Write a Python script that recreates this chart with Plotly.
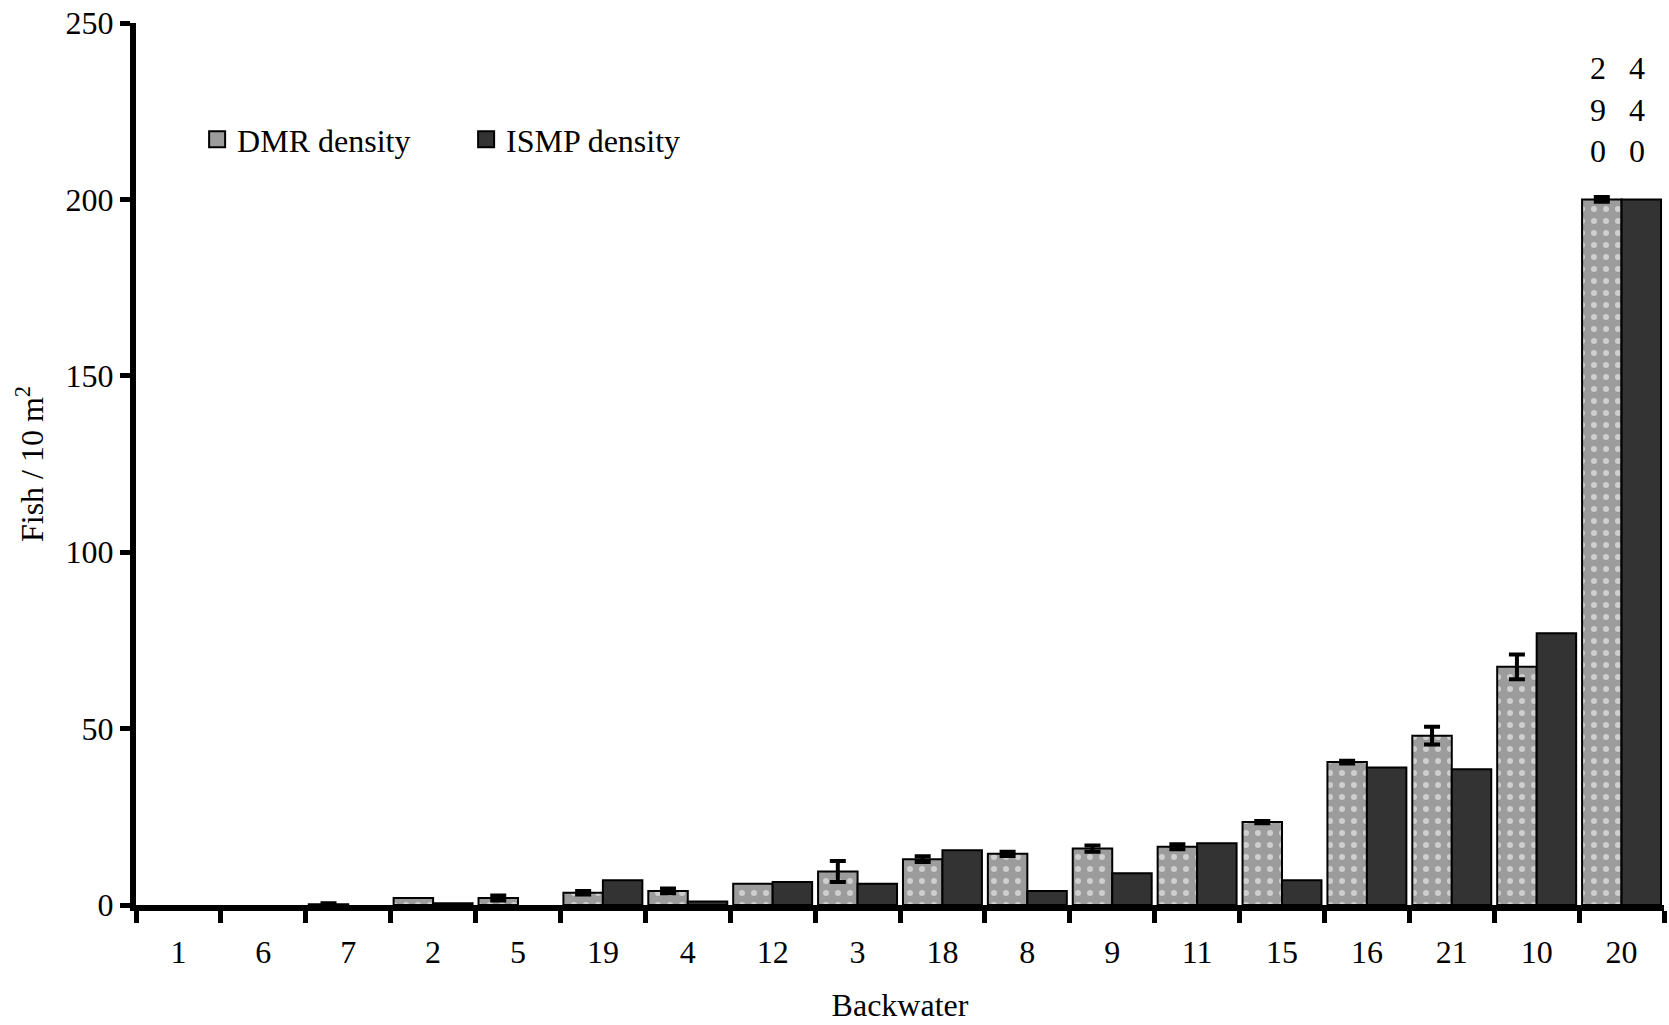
import plotly.graph_objects as go

# Backwaters ordered by increasing density
backwaters = ["1", "6", "7", "2", "5", "19", "4", "12", "3", "18",
              "8", "9", "11", "15", "16", "21", "10", "20"]
dmr_density = [0, 0, 0.2, 2.0, 2.0, 3.5, 4.0, 6.0, 9.5, 13.0,
               14.5, 16.0, 16.5, 23.5, 40.5, 48.0, 67.5, 290]
dmr_se = [None, None, 0.3, None, 0.7, 0.5, 0.7, None, 3.0, 0.8,
          0.6, 0.9, 0.7, 0.3, 0.4, 2.5, 3.5, 0.7]
ismp_density = [0, 0, 0, 0.5, 0, 7.0, 1.0, 6.5, 6.0, 15.5,
                4.0, 9.0, 17.5, 7.0, 39.0, 38.5, 77.0, 440]
y_ticks = [0, 50, 100, 150, 200, 250]

# bars above this value are truncated and their value written above them
AXIS_BREAK = 200
BARGAP = 0.07

FONT = "Liberation Serif"
SIZE = 32

DMR_FILL = "#9c9c9c"
ISMP_FILL = "#333333"


def drawn(values):
    # empty bars are left out; tall bars are cut at the break
    return [min(v, AXIS_BREAK) if v > 0 else None for v in values]


fig = go.Figure()
fig.add_trace(go.Bar(
    name="DMR density", x=backwaters, y=drawn(dmr_density), offsetgroup="dmr",
    showlegend=False,
    marker=dict(color=DMR_FILL, line=dict(color="black", width=2),
                pattern=dict(shape=".", fgcolor="white", bgcolor=DMR_FILL,
                             size=12, solidity=0.2)),
))
fig.add_trace(go.Bar(
    name="ISMP density", x=backwaters, y=drawn(ismp_density), offsetgroup="ismp",
    showlegend=False,
    marker=dict(color=ISMP_FILL, line=dict(color="black", width=2)),
))

# error bars only where a standard error was measured
dmr_top = drawn(dmr_density)
fig.add_trace(go.Scatter(
    x=backwaters, y=[t if s is not None else None for t, s in zip(dmr_top, dmr_se)],
    offsetgroup="dmr", mode="markers", marker=dict(size=1, opacity=0),
    error_y=dict(type="data", array=[s if s is not None else 0 for s in dmr_se],
                 color="black", thickness=4, width=8),
    showlegend=False, hoverinfo="skip",
))
fig.add_trace(go.Scatter(
    x=backwaters, y=[None] * len(backwaters), offsetgroup="ismp", mode="markers",
    marker=dict(size=1, opacity=0), showlegend=False, hoverinfo="skip",
))

# legend keys
fig.add_trace(go.Scatter(
    x=[None], y=[None], name="DMR density", mode="markers", offsetgroup="dmr",
    marker=dict(symbol="square", size=16, color=DMR_FILL,
                line=dict(color="black", width=2)),
))
fig.add_trace(go.Scatter(
    x=[None], y=[None], name="ISMP density", mode="markers", offsetgroup="ismp",
    marker=dict(symbol="square", size=16, color=ISMP_FILL,
                line=dict(color="black", width=2)),
))

# write the full value of truncated bars vertically above them
half = (1 - BARGAP) / 4
for series, offset in ((dmr_density, -half), (ismp_density, half)):
    for i, v in enumerate(series):
        if v > AXIS_BREAK:
            fig.add_annotation(
                x=i + offset, y=AXIS_BREAK, xref="x", yref="y",
                text="<br>".join(str(int(v))), showarrow=False,
                yanchor="bottom", yshift=28, xshift=-4,
                font=dict(family=FONT, size=SIZE, color="black"),
            )

fig.update_layout(
    width=1669, height=1025,
    margin=dict(l=136, r=5, t=21, b=120),
    paper_bgcolor="white", plot_bgcolor="white",
    barmode="group", bargap=BARGAP, bargroupgap=0,
    scattermode="group", scattergap=BARGAP,
    font=dict(family=FONT, size=SIZE, color="black"),
    showlegend=True,
    legend=dict(orientation="h", x=0.04, y=0.868, xanchor="left", yanchor="middle",
                font=dict(family=FONT, size=SIZE), itemwidth=30, itemsizing="trace",
                bgcolor="rgba(0,0,0,0)", entrywidth=224),
    xaxis=dict(
        range=[-0.5, len(backwaters) - 0.5], tickson="boundaries",
        ticks="outside", ticklen=12, tickwidth=5, tickcolor="black",
        showline=True, linewidth=6, linecolor="black", showgrid=False,
        tickfont=dict(family=FONT, size=SIZE), ticklabelstandoff=14,
        title=dict(text="Backwater", font=dict(family=FONT, size=SIZE), standoff=26),
    ),
    yaxis=dict(
        range=[0, 250], tickvals=y_ticks, ticks="outside", ticklen=10,
        tickwidth=5, tickcolor="black", showline=True, linewidth=6,
        linecolor="black", showgrid=False, zeroline=False,
        tickfont=dict(family=FONT, size=SIZE),
        title=dict(text="Fish / 10 m<sup>2</sup>", font=dict(family=FONT, size=SIZE),
                   standoff=14),
    ),
)

fig.write_html("out.html")
